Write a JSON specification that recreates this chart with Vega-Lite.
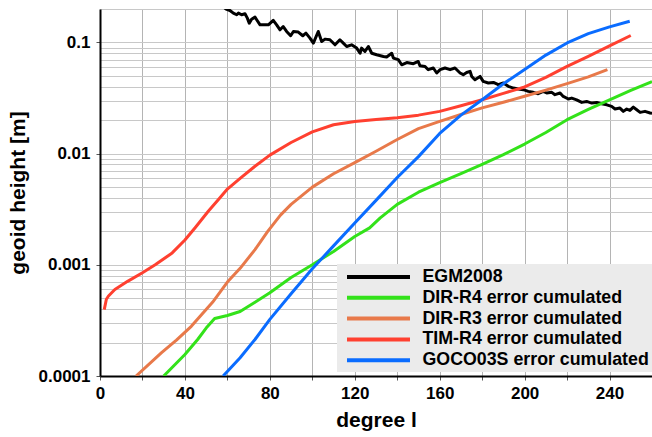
{
  "$schema": "https://vega.github.io/schema/vega-lite/v6.json",
  "width": 552,
  "height": 367,
  "autosize": {"type": "none"},
  "padding": {"left": 100, "top": 9, "right": 0, "bottom": 61},
  "background": "white",
  "config": {
    "view": {"stroke": null},
    "font": "Liberation Sans"
  },
  "data": {
    "values": [
      {"degree": 58, "value": 0.21, "series": "EGM2008"},
      {"degree": 59.4, "value": 0.1995, "series": "EGM2008"},
      {"degree": 61.2, "value": 0.194, "series": "EGM2008"},
      {"degree": 62.8, "value": 0.1837, "series": "EGM2008"},
      {"degree": 64.4, "value": 0.1775, "series": "EGM2008"},
      {"degree": 65.2, "value": 0.1837, "series": "EGM2008"},
      {"degree": 66.7, "value": 0.1775, "series": "EGM2008"},
      {"degree": 68.3, "value": 0.181, "series": "EGM2008"},
      {"degree": 69.4, "value": 0.1656, "series": "EGM2008"},
      {"degree": 70.3, "value": 0.149, "series": "EGM2008"},
      {"degree": 71.4, "value": 0.162, "series": "EGM2008"},
      {"degree": 73.0, "value": 0.169, "series": "EGM2008"},
      {"degree": 73.8, "value": 0.16, "series": "EGM2008"},
      {"degree": 75.4, "value": 0.144, "series": "EGM2008"},
      {"degree": 76.9, "value": 0.144, "series": "EGM2008"},
      {"degree": 79.3, "value": 0.144, "series": "EGM2008"},
      {"degree": 81.6, "value": 0.158, "series": "EGM2008"},
      {"degree": 83.2, "value": 0.144, "series": "EGM2008"},
      {"degree": 84.8, "value": 0.13, "series": "EGM2008"},
      {"degree": 86.3, "value": 0.139, "series": "EGM2008"},
      {"degree": 87.9, "value": 0.1256, "series": "EGM2008"},
      {"degree": 89.8, "value": 0.1149, "series": "EGM2008"},
      {"degree": 91.1, "value": 0.1256, "series": "EGM2008"},
      {"degree": 93.4, "value": 0.124, "series": "EGM2008"},
      {"degree": 95.5, "value": 0.1149, "series": "EGM2008"},
      {"degree": 97.0, "value": 0.1214, "series": "EGM2008"},
      {"degree": 98.9, "value": 0.1095, "series": "EGM2008"},
      {"degree": 100.5, "value": 0.0987, "series": "EGM2008"},
      {"degree": 102.8, "value": 0.1256, "series": "EGM2008"},
      {"degree": 104.4, "value": 0.102, "series": "EGM2008"},
      {"degree": 106.0, "value": 0.1072, "series": "EGM2008"},
      {"degree": 108.3, "value": 0.1057, "series": "EGM2008"},
      {"degree": 110.7, "value": 0.0953, "series": "EGM2008"},
      {"degree": 113.0, "value": 0.1057, "series": "EGM2008"},
      {"degree": 114.6, "value": 0.0987, "series": "EGM2008"},
      {"degree": 116.2, "value": 0.092, "series": "EGM2008"},
      {"degree": 118.5, "value": 0.0953, "series": "EGM2008"},
      {"degree": 120.9, "value": 0.089, "series": "EGM2008"},
      {"degree": 122.5, "value": 0.08, "series": "EGM2008"},
      {"degree": 123.2, "value": 0.089, "series": "EGM2008"},
      {"degree": 124.8, "value": 0.083, "series": "EGM2008"},
      {"degree": 126.4, "value": 0.092, "series": "EGM2008"},
      {"degree": 128.0, "value": 0.08, "series": "EGM2008"},
      {"degree": 130.3, "value": 0.0775, "series": "EGM2008"},
      {"degree": 133.5, "value": 0.0748, "series": "EGM2008"},
      {"degree": 135.0, "value": 0.074, "series": "EGM2008"},
      {"degree": 137.4, "value": 0.08, "series": "EGM2008"},
      {"degree": 138.2, "value": 0.0724, "series": "EGM2008"},
      {"degree": 140.5, "value": 0.07, "series": "EGM2008"},
      {"degree": 142.1, "value": 0.063, "series": "EGM2008"},
      {"degree": 144.5, "value": 0.066, "series": "EGM2008"},
      {"degree": 147.6, "value": 0.0644, "series": "EGM2008"},
      {"degree": 149.9, "value": 0.0675, "series": "EGM2008"},
      {"degree": 150.7, "value": 0.0617, "series": "EGM2008"},
      {"degree": 153.1, "value": 0.0608, "series": "EGM2008"},
      {"degree": 154.6, "value": 0.0569, "series": "EGM2008"},
      {"degree": 157.0, "value": 0.0589, "series": "EGM2008"},
      {"degree": 158.6, "value": 0.0531, "series": "EGM2008"},
      {"degree": 160.2, "value": 0.0569, "series": "EGM2008"},
      {"degree": 162.5, "value": 0.0589, "series": "EGM2008"},
      {"degree": 164.9, "value": 0.0569, "series": "EGM2008"},
      {"degree": 167.2, "value": 0.0589, "series": "EGM2008"},
      {"degree": 169.6, "value": 0.0531, "series": "EGM2008"},
      {"degree": 171.1, "value": 0.0513, "series": "EGM2008"},
      {"degree": 172.7, "value": 0.0537, "series": "EGM2008"},
      {"degree": 174.3, "value": 0.055, "series": "EGM2008"},
      {"degree": 175.1, "value": 0.0495, "series": "EGM2008"},
      {"degree": 176.6, "value": 0.0462, "series": "EGM2008"},
      {"degree": 179.0, "value": 0.0495, "series": "EGM2008"},
      {"degree": 180.5, "value": 0.0447, "series": "EGM2008"},
      {"degree": 182.9, "value": 0.0432, "series": "EGM2008"},
      {"degree": 185.3, "value": 0.0437, "series": "EGM2008"},
      {"degree": 187.6, "value": 0.0417, "series": "EGM2008"},
      {"degree": 190.0, "value": 0.0432, "series": "EGM2008"},
      {"degree": 192.3, "value": 0.0403, "series": "EGM2008"},
      {"degree": 194.7, "value": 0.0389, "series": "EGM2008"},
      {"degree": 197.0, "value": 0.0381, "series": "EGM2008"},
      {"degree": 199.4, "value": 0.0376, "series": "EGM2008"},
      {"degree": 201.7, "value": 0.0363, "series": "EGM2008"},
      {"degree": 204.1, "value": 0.0356, "series": "EGM2008"},
      {"degree": 206.4, "value": 0.0346, "series": "EGM2008"},
      {"degree": 208.8, "value": 0.0363, "series": "EGM2008"},
      {"degree": 210.4, "value": 0.0351, "series": "EGM2008"},
      {"degree": 212.8, "value": 0.0356, "series": "EGM2008"},
      {"degree": 214.3, "value": 0.0339, "series": "EGM2008"},
      {"degree": 216.7, "value": 0.0351, "series": "EGM2008"},
      {"degree": 218.2, "value": 0.0327, "series": "EGM2008"},
      {"degree": 220.6, "value": 0.031, "series": "EGM2008"},
      {"degree": 222.2, "value": 0.0316, "series": "EGM2008"},
      {"degree": 224.5, "value": 0.0305, "series": "EGM2008"},
      {"degree": 226.9, "value": 0.0289, "series": "EGM2008"},
      {"degree": 229.2, "value": 0.0295, "series": "EGM2008"},
      {"degree": 231.6, "value": 0.0285, "series": "EGM2008"},
      {"degree": 234.0, "value": 0.0289, "series": "EGM2008"},
      {"degree": 236.3, "value": 0.0281, "series": "EGM2008"},
      {"degree": 238.7, "value": 0.0275, "series": "EGM2008"},
      {"degree": 241.0, "value": 0.0266, "series": "EGM2008"},
      {"degree": 242.6, "value": 0.0252, "series": "EGM2008"},
      {"degree": 244.9, "value": 0.0257, "series": "EGM2008"},
      {"degree": 246.5, "value": 0.024, "series": "EGM2008"},
      {"degree": 248.1, "value": 0.0252, "series": "EGM2008"},
      {"degree": 249.6, "value": 0.0245, "series": "EGM2008"},
      {"degree": 251.2, "value": 0.0262, "series": "EGM2008"},
      {"degree": 252.8, "value": 0.0248, "series": "EGM2008"},
      {"degree": 254.4, "value": 0.0235, "series": "EGM2008"},
      {"degree": 256.7, "value": 0.024, "series": "EGM2008"},
      {"degree": 259.1, "value": 0.0232, "series": "EGM2008"},
      {"degree": 260, "value": 0.0231, "series": "EGM2008"},

      {"degree": 30, "value": 0.0001, "series": "DIR-R4 error cumulated"},
      {"degree": 40, "value": 0.000156, "series": "DIR-R4 error cumulated"},
      {"degree": 46, "value": 0.000213, "series": "DIR-R4 error cumulated"},
      {"degree": 50, "value": 0.00027, "series": "DIR-R4 error cumulated"},
      {"degree": 54, "value": 0.000329, "series": "DIR-R4 error cumulated"},
      {"degree": 60, "value": 0.00035, "series": "DIR-R4 error cumulated"},
      {"degree": 66, "value": 0.00038, "series": "DIR-R4 error cumulated"},
      {"degree": 73, "value": 0.00046, "series": "DIR-R4 error cumulated"},
      {"degree": 80, "value": 0.00056, "series": "DIR-R4 error cumulated"},
      {"degree": 90, "value": 0.00077, "series": "DIR-R4 error cumulated"},
      {"degree": 100, "value": 0.001, "series": "DIR-R4 error cumulated"},
      {"degree": 110, "value": 0.00132, "series": "DIR-R4 error cumulated"},
      {"degree": 120, "value": 0.0018, "series": "DIR-R4 error cumulated"},
      {"degree": 127, "value": 0.00215, "series": "DIR-R4 error cumulated"},
      {"degree": 132, "value": 0.00264, "series": "DIR-R4 error cumulated"},
      {"degree": 140, "value": 0.0035, "series": "DIR-R4 error cumulated"},
      {"degree": 150, "value": 0.0045, "series": "DIR-R4 error cumulated"},
      {"degree": 160, "value": 0.0055, "series": "DIR-R4 error cumulated"},
      {"degree": 170, "value": 0.0066, "series": "DIR-R4 error cumulated"},
      {"degree": 180, "value": 0.008, "series": "DIR-R4 error cumulated"},
      {"degree": 190, "value": 0.0098, "series": "DIR-R4 error cumulated"},
      {"degree": 200, "value": 0.0122, "series": "DIR-R4 error cumulated"},
      {"degree": 210, "value": 0.0155, "series": "DIR-R4 error cumulated"},
      {"degree": 220, "value": 0.0202, "series": "DIR-R4 error cumulated"},
      {"degree": 230, "value": 0.025, "series": "DIR-R4 error cumulated"},
      {"degree": 240, "value": 0.0305, "series": "DIR-R4 error cumulated"},
      {"degree": 250, "value": 0.037, "series": "DIR-R4 error cumulated"},
      {"degree": 260, "value": 0.0445, "series": "DIR-R4 error cumulated"},

      {"degree": 17, "value": 0.0001, "series": "DIR-R3 error cumulated"},
      {"degree": 29, "value": 0.000162, "series": "DIR-R3 error cumulated"},
      {"degree": 36, "value": 0.00021, "series": "DIR-R3 error cumulated"},
      {"degree": 43, "value": 0.00028, "series": "DIR-R3 error cumulated"},
      {"degree": 48, "value": 0.00036, "series": "DIR-R3 error cumulated"},
      {"degree": 53, "value": 0.00046, "series": "DIR-R3 error cumulated"},
      {"degree": 60, "value": 0.0007, "series": "DIR-R3 error cumulated"},
      {"degree": 66, "value": 0.00093, "series": "DIR-R3 error cumulated"},
      {"degree": 73, "value": 0.00137, "series": "DIR-R3 error cumulated"},
      {"degree": 79, "value": 0.002, "series": "DIR-R3 error cumulated"},
      {"degree": 85, "value": 0.0028, "series": "DIR-R3 error cumulated"},
      {"degree": 90, "value": 0.0035, "series": "DIR-R3 error cumulated"},
      {"degree": 100, "value": 0.005, "series": "DIR-R3 error cumulated"},
      {"degree": 110, "value": 0.0066, "series": "DIR-R3 error cumulated"},
      {"degree": 120, "value": 0.0083, "series": "DIR-R3 error cumulated"},
      {"degree": 130, "value": 0.0105, "series": "DIR-R3 error cumulated"},
      {"degree": 140, "value": 0.0134, "series": "DIR-R3 error cumulated"},
      {"degree": 150, "value": 0.0168, "series": "DIR-R3 error cumulated"},
      {"degree": 160, "value": 0.0195, "series": "DIR-R3 error cumulated"},
      {"degree": 170, "value": 0.0225, "series": "DIR-R3 error cumulated"},
      {"degree": 180, "value": 0.0258, "series": "DIR-R3 error cumulated"},
      {"degree": 190, "value": 0.029, "series": "DIR-R3 error cumulated"},
      {"degree": 200, "value": 0.0328, "series": "DIR-R3 error cumulated"},
      {"degree": 210, "value": 0.0373, "series": "DIR-R3 error cumulated"},
      {"degree": 220, "value": 0.0426, "series": "DIR-R3 error cumulated"},
      {"degree": 230, "value": 0.049, "series": "DIR-R3 error cumulated"},
      {"degree": 239, "value": 0.057, "series": "DIR-R3 error cumulated"},

      {"degree": 2, "value": 0.000395, "series": "TIM-R4 error cumulated"},
      {"degree": 3, "value": 0.00049, "series": "TIM-R4 error cumulated"},
      {"degree": 4, "value": 0.000525, "series": "TIM-R4 error cumulated"},
      {"degree": 7, "value": 0.0006, "series": "TIM-R4 error cumulated"},
      {"degree": 13, "value": 0.00071, "series": "TIM-R4 error cumulated"},
      {"degree": 20, "value": 0.00085, "series": "TIM-R4 error cumulated"},
      {"degree": 26, "value": 0.001, "series": "TIM-R4 error cumulated"},
      {"degree": 34, "value": 0.00128, "series": "TIM-R4 error cumulated"},
      {"degree": 40, "value": 0.00167, "series": "TIM-R4 error cumulated"},
      {"degree": 45, "value": 0.00218, "series": "TIM-R4 error cumulated"},
      {"degree": 51, "value": 0.00303, "series": "TIM-R4 error cumulated"},
      {"degree": 56, "value": 0.0039, "series": "TIM-R4 error cumulated"},
      {"degree": 60, "value": 0.0048, "series": "TIM-R4 error cumulated"},
      {"degree": 66, "value": 0.006, "series": "TIM-R4 error cumulated"},
      {"degree": 73, "value": 0.0077, "series": "TIM-R4 error cumulated"},
      {"degree": 80, "value": 0.0097, "series": "TIM-R4 error cumulated"},
      {"degree": 90, "value": 0.0126, "series": "TIM-R4 error cumulated"},
      {"degree": 100, "value": 0.0157, "series": "TIM-R4 error cumulated"},
      {"degree": 110, "value": 0.0182, "series": "TIM-R4 error cumulated"},
      {"degree": 120, "value": 0.0195, "series": "TIM-R4 error cumulated"},
      {"degree": 130, "value": 0.0203, "series": "TIM-R4 error cumulated"},
      {"degree": 140, "value": 0.021, "series": "TIM-R4 error cumulated"},
      {"degree": 150, "value": 0.0222, "series": "TIM-R4 error cumulated"},
      {"degree": 160, "value": 0.024, "series": "TIM-R4 error cumulated"},
      {"degree": 170, "value": 0.027, "series": "TIM-R4 error cumulated"},
      {"degree": 180, "value": 0.0305, "series": "TIM-R4 error cumulated"},
      {"degree": 190, "value": 0.0348, "series": "TIM-R4 error cumulated"},
      {"degree": 200, "value": 0.0398, "series": "TIM-R4 error cumulated"},
      {"degree": 210, "value": 0.0485, "series": "TIM-R4 error cumulated"},
      {"degree": 220, "value": 0.061, "series": "TIM-R4 error cumulated"},
      {"degree": 230, "value": 0.075, "series": "TIM-R4 error cumulated"},
      {"degree": 240, "value": 0.093, "series": "TIM-R4 error cumulated"},
      {"degree": 250, "value": 0.1155, "series": "TIM-R4 error cumulated"},

      {"degree": 58, "value": 0.0001, "series": "GOCO03S error cumulated"},
      {"degree": 66, "value": 0.000146, "series": "GOCO03S error cumulated"},
      {"degree": 73, "value": 0.000213, "series": "GOCO03S error cumulated"},
      {"degree": 80, "value": 0.000323, "series": "GOCO03S error cumulated"},
      {"degree": 90, "value": 0.00055, "series": "GOCO03S error cumulated"},
      {"degree": 100, "value": 0.00092, "series": "GOCO03S error cumulated"},
      {"degree": 110, "value": 0.00148, "series": "GOCO03S error cumulated"},
      {"degree": 120, "value": 0.00238, "series": "GOCO03S error cumulated"},
      {"degree": 130, "value": 0.0038, "series": "GOCO03S error cumulated"},
      {"degree": 140, "value": 0.0061, "series": "GOCO03S error cumulated"},
      {"degree": 150, "value": 0.0094, "series": "GOCO03S error cumulated"},
      {"degree": 160, "value": 0.0152, "series": "GOCO03S error cumulated"},
      {"degree": 170, "value": 0.0222, "series": "GOCO03S error cumulated"},
      {"degree": 180, "value": 0.0305, "series": "GOCO03S error cumulated"},
      {"degree": 190, "value": 0.0425, "series": "GOCO03S error cumulated"},
      {"degree": 200, "value": 0.057, "series": "GOCO03S error cumulated"},
      {"degree": 210, "value": 0.077, "series": "GOCO03S error cumulated"},
      {"degree": 220, "value": 0.099, "series": "GOCO03S error cumulated"},
      {"degree": 230, "value": 0.12, "series": "GOCO03S error cumulated"},
      {"degree": 240, "value": 0.138, "series": "GOCO03S error cumulated"},
      {"degree": 249.5, "value": 0.155, "series": "GOCO03S error cumulated"}
    ]
  },
  "mark": {"type": "line", "clip": true, "strokeWidth": 3, "strokeJoin": "round"},
  "encoding": {
    "x": {
      "field": "degree",
      "type": "quantitative",
      "scale": {"domain": [0, 260], "nice": false},
      "axis": {
        "title": "degree l",
        "values": [0, 20, 40, 60, 80, 100, 120, 140, 160, 180, 200, 220, 240, 260],
        "labelExpr": "datum.value % 40 == 0 ? datum.label : ''",
        "grid": true,
        "gridColor": "#b4b4b4",
        "gridWidth": 1,
        "domainColor": "#000000",
        "domainWidth": 2,
        "tickColor": "#555555",
        "tickSize": 4,
        "labelFont": "Liberation Sans",
        "labelFontWeight": "bold",
        "labelFontSize": 17,
        "labelColor": "#000000",
        "labelPadding": 5,
        "labelFlush": false,
        "labelOverlap": false,
        "titleFont": "Liberation Sans",
        "titleFontWeight": "bold",
        "titleFontSize": 21,
        "titleColor": "#000000",
        "titlePadding": 8
      }
    },
    "y": {
      "field": "value",
      "type": "quantitative",
      "scale": {"type": "log", "domain": [0.0001, 0.2], "nice": false},
      "axis": {
        "title": "geoid height [m]",
        "values": [0.0001, 0.0002, 0.0003, 0.0004, 0.0005, 0.0006, 0.0007, 0.0008, 0.0009,
                   0.001, 0.002, 0.003, 0.004, 0.005, 0.006, 0.007, 0.008, 0.009,
                   0.01, 0.02, 0.03, 0.04, 0.05, 0.06, 0.07, 0.08, 0.09,
                   0.1, 0.2],
        "labelExpr": "indexof([0.0001, 0.001, 0.01, 0.1], datum.value) >= 0 ? format(datum.value, '~g') : ''",
        "tickSize": {"condition": {"test": "indexof([0.0001, 0.001, 0.01, 0.1], datum.value) >= 0", "value": 4}, "value": 0},
        "grid": true,
        "gridColor": "#c8c8c8",
        "gridWidth": 1,
        "domainColor": "#000000",
        "domainWidth": 2,
        "tickColor": "#555555",
        "labelFont": "Liberation Sans",
        "labelFontWeight": "bold",
        "labelFontSize": 17,
        "labelColor": "#000000",
        "labelPadding": 6,
        "labelFlush": false,
        "labelOverlap": false,
        "titleFont": "Liberation Sans",
        "titleFontWeight": "bold",
        "titleFontSize": 21,
        "titleColor": "#000000",
        "titlePadding": 10
      }
    },
    "color": {
      "field": "series",
      "type": "nominal",
      "scale": {
        "domain": ["EGM2008", "DIR-R4 error cumulated", "DIR-R3 error cumulated", "TIM-R4 error cumulated", "GOCO03S error cumulated"],
        "range": ["#000000", "#33e21a", "#e8794a", "#ff4030", "#0a6cff"]
      },
      "legend": {
        "orient": "none",
        "legendX": 237,
        "legendY": 255,
        "direction": "vertical",
        "title": null,
        "symbolType": "M-4,0H4",
        "symbolSize": 248,
        "symbolStrokeWidth": 4,
        "symbolOffset": 28.5,
        "labelFont": "Liberation Sans",
        "labelFontWeight": "bold",
        "labelFontSize": 17.8,
        "labelColor": "#000000",
        "labelLimit": 0,
        "labelOffset": 34,
        "fillColor": "#ebebeb",
        "padding": 3,
        "rowPadding": 1.8
      }
    }
  }
}
